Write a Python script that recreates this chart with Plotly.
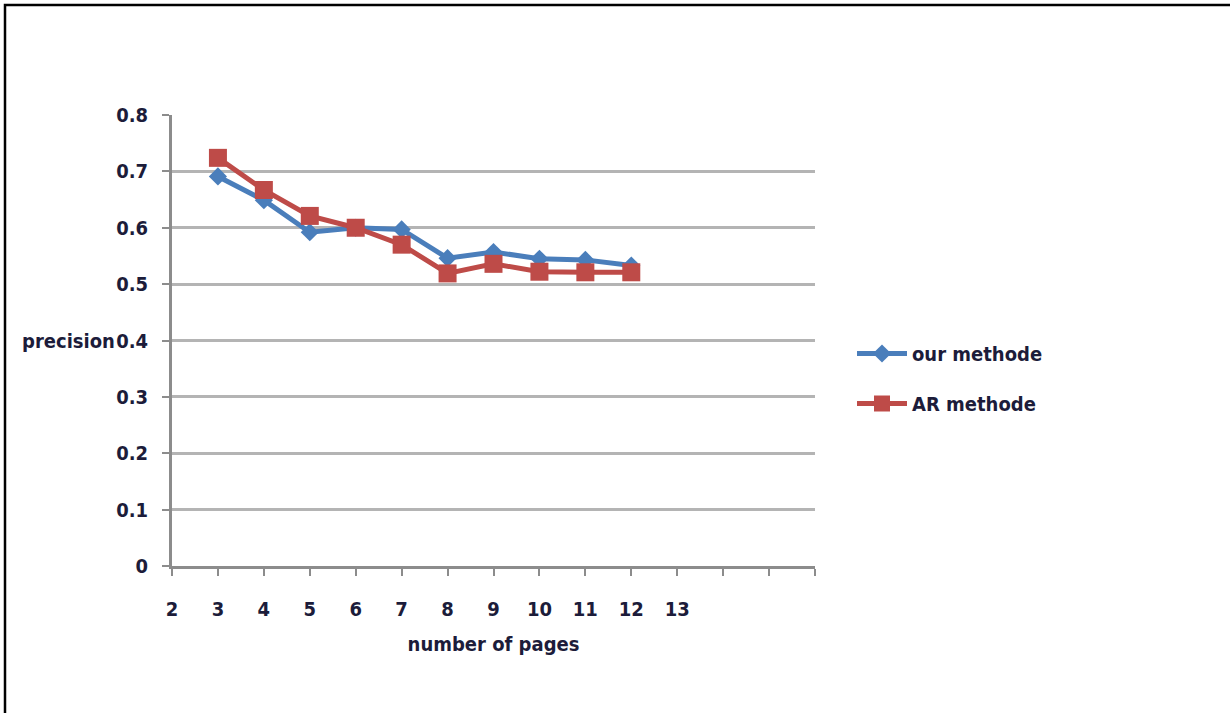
import plotly.graph_objects as go

pages = [3, 4, 5, 6, 7, 8, 9, 10, 11, 12]
our_methode = [0.691, 0.649, 0.592, 0.600, 0.597, 0.546, 0.557, 0.545, 0.543, 0.533]
ar_methode = [0.724, 0.667, 0.621, 0.600, 0.570, 0.519, 0.536, 0.522, 0.521, 0.521]
x_tickvals = list(range(2, 17))
x_ticktext = [str(v) if v <= 13 else "" for v in x_tickvals]
y_tickvals = [0, 0.1, 0.2, 0.3, 0.4, 0.5, 0.6, 0.7, 0.8]
y_ticktext = ["0", "0.1", "0.2", "0.3", "0.4", "0.5", "0.6", "0.7", "0.8"]

W, H = 1230, 713
L, R, T, B = 172, 415, 115, 147
pw, ph = W - L - R, H - T - B

font_fam = "DejaVu Sans Condensed, DejaVu Sans, sans-serif"
txt_col = "#1c1c3a"
FS = 20
WT = "bold"

fig = go.Figure()
fig.add_trace(go.Scatter(
    x=pages, y=our_methode, name="our methode", mode="lines+markers",
    legendgroup="a",
    line=dict(color="#4A7EBB", width=5),
    marker=dict(symbol="diamond", size=14, color="#4A7EBB"),
))
fig.add_trace(go.Scatter(
    x=pages, y=ar_methode, name="AR methode", mode="lines+markers",
    legendgroup="b",
    line=dict(color="#BE4B48", width=5),
    marker=dict(symbol="square", size=18, color="#BE4B48"),
))

fig.update_layout(
    width=W, height=H,
    margin=dict(l=L, r=R, t=T, b=B),
    paper_bgcolor="white", plot_bgcolor="white",
    font=dict(family=font_fam, size=FS, color=txt_col, weight=WT),
    legend=dict(
        x=(852 - L) / pw, y=(566 - 334) / ph, xanchor="left", yanchor="top",
        font=dict(size=FS, color=txt_col, weight=WT), tracegroupgap=21,
        itemwidth=50, bgcolor="rgba(0,0,0,0)",
    ),
    xaxis=dict(
        range=[2, 16], tickmode="array", tickvals=x_tickvals, ticktext=x_ticktext,
        showgrid=False, zeroline=False,
        showline=True, linecolor="#8c8c8c", linewidth=3,
        ticks="outside", ticklen=7, tickwidth=2, tickcolor="#8c8c8c",
        ticklabelstandoff=16,
        tickfont=dict(size=FS, color=txt_col, weight=WT),
        title=dict(text="number of pages", font=dict(size=FS, color=txt_col, weight=WT), standoff=17),
    ),
    yaxis=dict(
        range=[0, 0.8], tickmode="array", tickvals=y_tickvals, ticktext=y_ticktext,
        showgrid=True, gridcolor="#b4b4b4", gridwidth=3,
        zeroline=False,
        showline=True, linecolor="#8c8c8c", linewidth=3,
        ticks="outside", ticklen=7, tickwidth=2, tickcolor="#8c8c8c",
        ticklabelstandoff=10,
        tickfont=dict(size=FS, color=txt_col, weight=WT),
    ),
)

fig.add_annotation(
    text="precision", xref="paper", yref="y",
    x=(117 - L) / pw, y=0.4, xanchor="right", yanchor="middle",
    showarrow=False, font=dict(size=FS, color=txt_col, weight=WT),
)

# outer frame (left and top edges visible)
fig.add_shape(
    type="rect", xref="paper", yref="paper",
    x0=(5 - L) / pw, x1=(1260 - L) / pw,
    y0=(566 - 760) / ph, y1=(566 - 5) / ph,
    line=dict(color="black", width=2.5), fillcolor="rgba(0,0,0,0)", layer="below",
)

fig.write_html("out.html", config={"displayModeBar": False},
               post_script="document.body.style.margin='0';")
